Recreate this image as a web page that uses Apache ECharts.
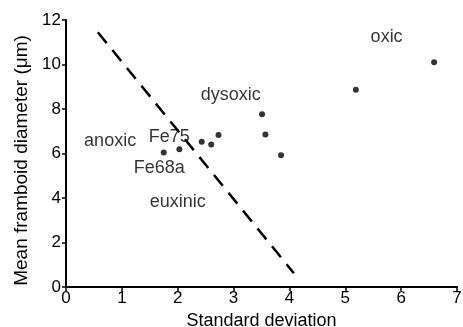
<!DOCTYPE html>
<html>
<head>
<meta charset="utf-8">
<script src="https://cdn.jsdelivr.net/npm/echarts@6/dist/echarts.min.js"></script>
<style>
  html, body { margin: 0; padding: 0; background: #fff; }
  #chart { width: 463px; height: 327px; }
</style>
</head>
<body>
<div id="chart"></div>
<script>
// samples: standard deviation vs mean framboid diameter
const stdDev = [1.75, 2.03, 2.43, 2.60, 2.73, 3.51, 3.57, 3.85, 5.19, 6.59];
const meanDiameter = [6.05, 6.19, 6.53, 6.40, 6.83, 7.76, 6.85, 5.92, 8.87, 10.10];

// dashed boundary line (euxinic / anoxic)
const boundaryX = [0.57, 4.08];
const boundaryY = [11.45, 0.62];

// text annotations placed in data coordinates
const noteText = ['oxic', 'dysoxic', 'anoxic', 'Fe75', 'Fe68a', 'euxinic'];
const noteX = [5.74, 2.95, 0.79, 1.85, 1.67, 2.0];
const noteY = [11.24, 8.62, 6.56, 6.74, 5.35, 3.8];

const chart = echarts.init(document.getElementById('chart'));
const font = 'Liberation Sans, Arial, sans-serif';

const option = {
  animation: false,
  textStyle: { fontFamily: font },
  grid: { left: 66, right: 6, top: 20, bottom: 40, containLabel: false, outerBoundsMode: 'none' },
  xAxis: {
    type: 'value',
    min: 0,
    max: 7,
    interval: 1,
    name: 'Standard deviation',
    nameLocation: 'middle',
    nameGap: 21,
    nameTextStyle: { fontSize: 18, color: '#000', fontFamily: font },
    axisLine: { lineStyle: { color: '#000', width: 2 } },
    axisTick: { show: true, length: 4, lineStyle: { color: '#000', width: 1.5 } },
    axisLabel: { fontSize: 17, color: '#000', margin: 3, fontFamily: font },
    splitLine: { show: false }
  },
  yAxis: {
    type: 'value',
    min: 0,
    max: 12,
    interval: 2,
    name: 'Mean framboid diameter (μm)',
    nameLocation: 'middle',
    nameGap: 28,
    nameTextStyle: { fontSize: 19, color: '#000', fontFamily: font, padding: [0, 14, 0, 0] },
    axisLine: { show: true, lineStyle: { color: '#000', width: 2 } },
    axisTick: { show: true, length: 4, lineStyle: { color: '#000', width: 1.5 } },
    axisLabel: { fontSize: 17, color: '#000', margin: 5, fontFamily: font },
    splitLine: { show: false }
  },
  series: [
    {
      type: 'line',
      data: boundaryX.map((x, i) => [x, boundaryY[i]]),
      symbol: 'none',
      lineStyle: { color: '#000', width: 2.5, type: [14, 9] },
      silent: true
    },
    {
      type: 'scatter',
      data: stdDev.map((x, i) => [x, meanDiameter[i]]),
      symbol: 'circle',
      symbolSize: 6,
      itemStyle: { color: '#000' }
    },
    {
      type: 'scatter',
      data: noteText.map((t, i) => ({ value: [noteX[i], noteY[i]], name: t })),
      symbolSize: 0,
      label: {
        show: true,
        position: 'inside',
        formatter: p => p.name,
        fontSize: 18,
        color: '#000',
        fontFamily: font
      },
      silent: true
    }
  ]
};

chart.setOption(option);
</script>
</body>
</html>
